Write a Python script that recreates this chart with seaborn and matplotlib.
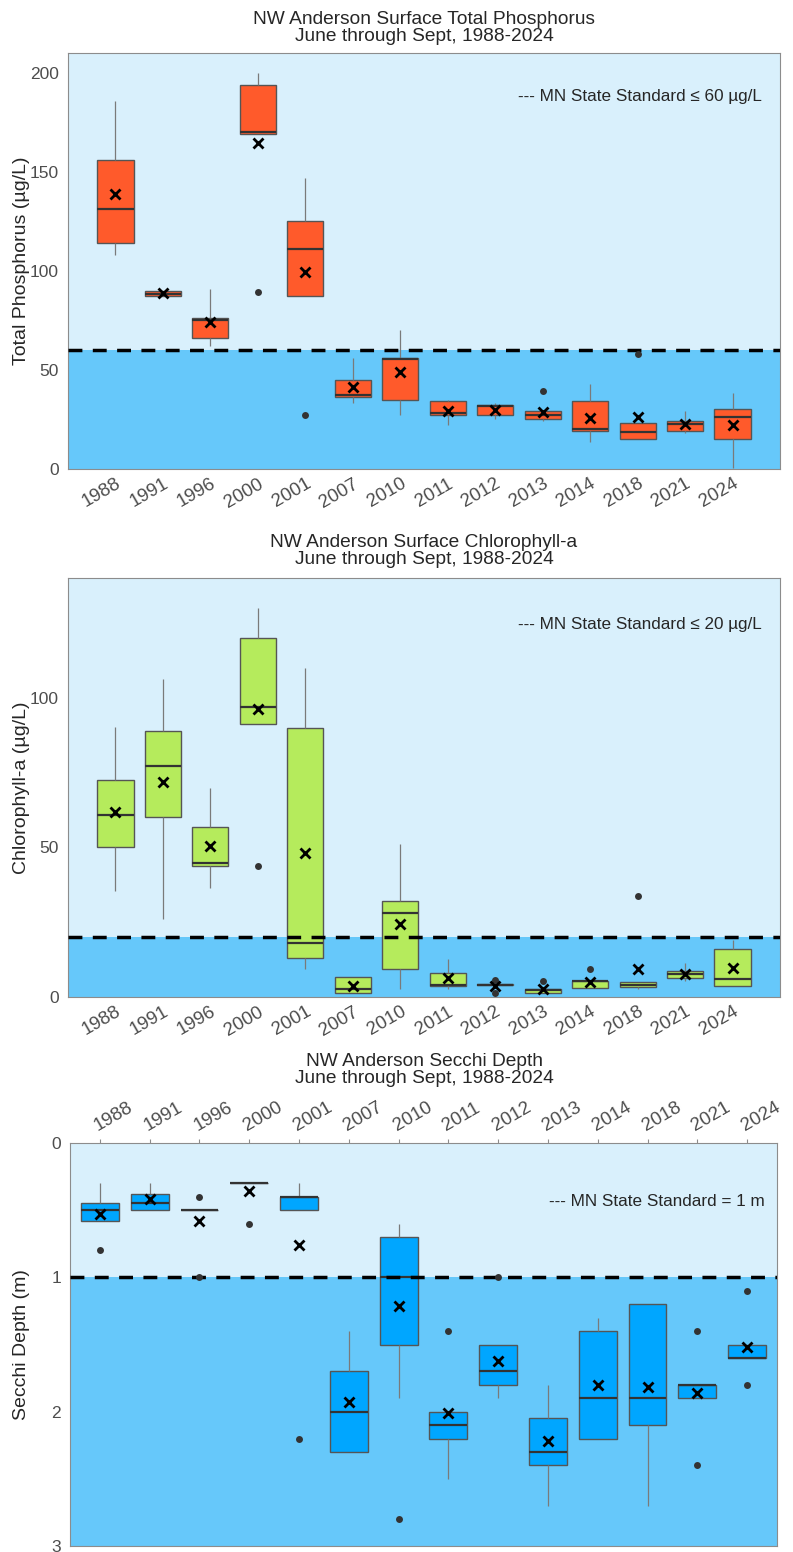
import pandas as pd
import matplotlib
matplotlib.use("Agg")
import matplotlib.pyplot as plt
import seaborn as sns

years = ["1988", "1991", "1996", "2000", "2001", "2007", "2010",
         "2011", "2012", "2013", "2014", "2018", "2021", "2024"]

# Total phosphorus (ug/L): whisker low, Q1, median, Q3, whisker high, mean
tp_lo = [108, 87.2, 62.2, 169, 87.2, 33.4, 27.4, 22.4, 25.4, 24.2, 13.5, 15.2, 18.3, 0.7]
tp_q1 = [114, 87.2, 66.1, 169, 87.2, 36.3, 35.0, 27.2, 27.2, 25.0, 19.0, 15.2, 19.2, 15.2]
tp_med = [131, 88.2, 75.3, 170, 111, 37.4, 55.5, 28.2, 31.7, 27.4, 20.0, 18.5, 22.5, 26.2]
tp_q3 = [156, 89.9, 76.1, 194, 125, 45.1, 56.0, 34.3, 32.4, 29.2, 34.3, 23.4, 24.4, 30.2]
tp_hi = [186, 89.9, 91.0, 200, 147, 56.0, 70.0, 35.0, 33.4, 30.0, 43.0, 23.4, 29.2, 38.3]
tp_mean = [139, 88.7, 74.3, 164.5, 99.4, 41.6, 49.0, 29.4, 29.9, 28.9, 25.9, 26.0, 22.9, 22.2]
tp_out_year = ["2000", "2001", "2013", "2018"]
tp_out_val = [89.2, 27.2, 39.3, 58.2]

# Chlorophyll-a (ug/L)
chl_lo = [35.5, 26.0, 36.5, 91.1, 9.5, 1.3, 2.8, 2.8, 3.9, 1.2, 2.9, 2.6, 5.4, 3.6]
chl_q1 = [50.0, 60.1, 43.8, 91.1, 13.0, 1.3, 9.4, 3.8, 3.9, 1.2, 2.9, 3.2, 6.3, 3.8]
chl_med = [60.7, 77.2, 44.8, 97.0, 18.1, 2.7, 28.1, 4.1, 4.1, 2.2, 5.3, 4.0, 7.7, 6.0]
chl_q3 = [72.4, 88.8, 56.7, 120.0, 89.9, 6.7, 32.0, 8.0, 4.3, 2.8, 5.4, 4.9, 8.8, 16.0]
chl_hi = [90.1, 106.4, 69.9, 129.9, 109.8, 6.7, 51.0, 12.8, 4.3, 2.8, 5.4, 4.9, 11.3, 19.2]
chl_mean = [61.8, 71.7, 50.3, 96.3, 48.0, 3.7, 24.5, 6.4, 3.7, 2.6, 5.1, 9.5, 7.8, 9.7]
chl_out_year = ["2000", "2012", "2012", "2013", "2014", "2018"]
chl_out_val = [43.9, 5.6, 1.3, 5.4, 9.4, 33.8]

# Secchi depth (m)
sd_lo = [0.30, 0.30, 0.50, 0.30, 0.30, 1.40, 0.60, 2.00, 1.50, 1.80, 1.30, 1.20, 1.80, 1.50]
sd_q1 = [0.45, 0.38, 0.50, 0.30, 0.40, 1.70, 0.70, 2.00, 1.50, 2.05, 1.40, 1.20, 1.80, 1.50]
sd_med = [0.50, 0.45, 0.50, 0.30, 0.40, 2.00, 1.00, 2.10, 1.70, 2.30, 1.90, 1.90, 1.80, 1.60]
sd_q3 = [0.58, 0.50, 0.50, 0.30, 0.50, 2.30, 1.50, 2.20, 1.80, 2.40, 2.20, 2.10, 1.90, 1.60]
sd_hi = [0.58, 0.50, 0.50, 0.30, 0.50, 2.30, 1.90, 2.50, 1.90, 2.70, 2.20, 2.70, 1.90, 1.60]
sd_mean = [0.53, 0.42, 0.58, 0.36, 0.76, 1.93, 1.21, 2.01, 1.62, 2.22, 1.80, 1.82, 1.86, 1.52]
sd_out_year = ["1988", "1996", "1996", "2000", "2001", "2010", "2011", "2012",
               "2021", "2021", "2024", "2024"]
sd_out_val = [0.80, 0.40, 1.00, 0.60, 2.20, 2.80, 1.40, 1.00, 1.40, 2.40, 1.10, 1.80]

LIGHT = "#D9F0FC"
DARK = "#66C8FA"
TICK_GREY = "#4D4D4D"

sns.set_style("white")
plt.rcParams["font.family"] = ["Liberation Sans", "DejaVu Sans"]


def draw_panel(ax, lo, q1, med, q3, hi, means, out_year, out_val, box_color):
    df = pd.DataFrame({"year": years * 5, "value": lo + q1 + med + q3 + hi})
    sns.boxplot(data=df, x="year", y="value", order=years, ax=ax,
                color=box_color, saturation=1, width=0.76, whis=(0, 100),
                showcaps=False, showfliers=False, linecolor="#555555", linewidth=1,
                medianprops=dict(color="#333333", linewidth=1.6),
                whiskerprops=dict(color="#7A7A7A", linewidth=0.9),
                zorder=3)
    sns.stripplot(x=out_year, y=out_val, order=years, jitter=False,
                  color="#333333", size=5, ax=ax, zorder=5)
    sns.pointplot(x=years, y=means, order=years, errorbar=None, color="black",
                  marker="x", linestyle="none", markersize=7.5, markeredgewidth=2,
                  ax=ax, zorder=6)
    ax.set_facecolor(LIGHT)
    ax.set_xlabel("")
    for s in ax.spines.values():
        s.set_visible(True)
        s.set_color("#8C8C8C")
        s.set_linewidth(0.8)
    ax.tick_params(axis="both", length=3, width=0.8, color="#8C8C8C",
                   labelcolor=TICK_GREY, labelsize=12.5)
    ax.tick_params(axis="x", labelsize=13.5, pad=1.5)


fig = plt.figure(figsize=(7.93, 15.52), dpi=100)
W = 793
H = 1552


def add_axes(left, top, right, bottom):
    return fig.add_axes([left / W, 1 - bottom / H, (right - left) / W, (bottom - top) / H])


# Panel 1: total phosphorus
ax1 = add_axes(68, 53, 780, 469)
draw_panel(ax1, tp_lo, tp_q1, tp_med, tp_q3, tp_hi, tp_mean,
           tp_out_year, tp_out_val, "#FF5A2B")
ax1.set_xlim(-1, len(years))
ax1.axhspan(0, 60, color=DARK, zorder=0, lw=0)
ax1.axhline(60, color="black", linestyle=(0, (4, 3)), linewidth=2.5, zorder=4)
ax1.set_ylim(0, 210)
ax1.set_yticks([0, 50, 100, 150, 200])
ax1.set_ylabel("Total Phosphorus (\u00b5g/L)", fontsize=14)
ax1.yaxis.set_label_coords((30 - 68) / 712, 0.5)
plt.setp(ax1.get_xticklabels(), rotation=30, ha="right", rotation_mode="anchor")
ax1.text(0.975, 0.895, "--- MN State Standard \u2264 60 \u00b5g/L", transform=ax1.transAxes,
         ha="right", va="center", fontsize=12.3)
fig.text(424 / W, 1 - 28 / H, "NW Anderson Surface Total Phosphorus\nJune through Sept, 1988-2024",
         ha="center", va="center", fontsize=13.8, linespacing=1.05)

# Panel 2: chlorophyll-a
ax2 = add_axes(68, 578, 780, 997)
draw_panel(ax2, chl_lo, chl_q1, chl_med, chl_q3, chl_hi, chl_mean,
           chl_out_year, chl_out_val, "#B5EB5C")
ax2.set_xlim(-1, len(years))
ax2.axhspan(0, 20, color=DARK, zorder=0, lw=0)
ax2.axhline(20, color="black", linestyle=(0, (4, 3)), linewidth=2.5, zorder=4)
ax2.set_ylim(0, 140)
ax2.set_yticks([0, 50, 100])
ax2.set_ylabel("Chlorophyll-a (\u00b5g/L)", fontsize=14)
ax2.yaxis.set_label_coords((30 - 68) / 712, 0.5)
plt.setp(ax2.get_xticklabels(), rotation=30, ha="right", rotation_mode="anchor")
ax2.text(0.975, 0.89, "--- MN State Standard \u2264 20 \u00b5g/L", transform=ax2.transAxes,
         ha="right", va="center", fontsize=12.3)
fig.text(424 / W, 1 - 551 / H, "NW Anderson Surface Chlorophyll-a\nJune through Sept, 1988-2024",
         ha="center", va="center", fontsize=13.8, linespacing=1.05)

# Panel 3: secchi depth (inverted, ticks on top)
ax3 = add_axes(70, 1143, 777, 1546)
draw_panel(ax3, sd_lo, sd_q1, sd_med, sd_q3, sd_hi, sd_mean,
           sd_out_year, sd_out_val, "#00A6FF")
ax3.set_xlim(-0.6, len(years) - 0.4)
ax3.axhspan(1, 3, color=DARK, zorder=0, lw=0)
ax3.axhline(1, color="black", linestyle=(0, (4, 3)), linewidth=2.5, zorder=4)
ax3.set_ylim(3, 0)
ax3.set_yticks([0, 1, 2, 3])
ax3.set_ylabel("Secchi Depth (m)", fontsize=14)
ax3.yaxis.set_label_coords((30 - 70) / 707, 0.5)
ax3.xaxis.tick_top()
ax3.tick_params(axis="x", pad=3)
plt.setp(ax3.get_xticklabels(), rotation=30, ha="left", va="bottom", rotation_mode="anchor")
ax3.text(0.983, 0.855, "--- MN State Standard = 1 m", transform=ax3.transAxes,
         ha="right", va="center", fontsize=12.3)
fig.text(424 / W, 1 - 1070 / H, "NW Anderson Secchi Depth\nJune through Sept, 1988-2024",
         ha="center", va="center", fontsize=13.8, linespacing=1.05)

fig.savefig("out.png", dpi=100)
